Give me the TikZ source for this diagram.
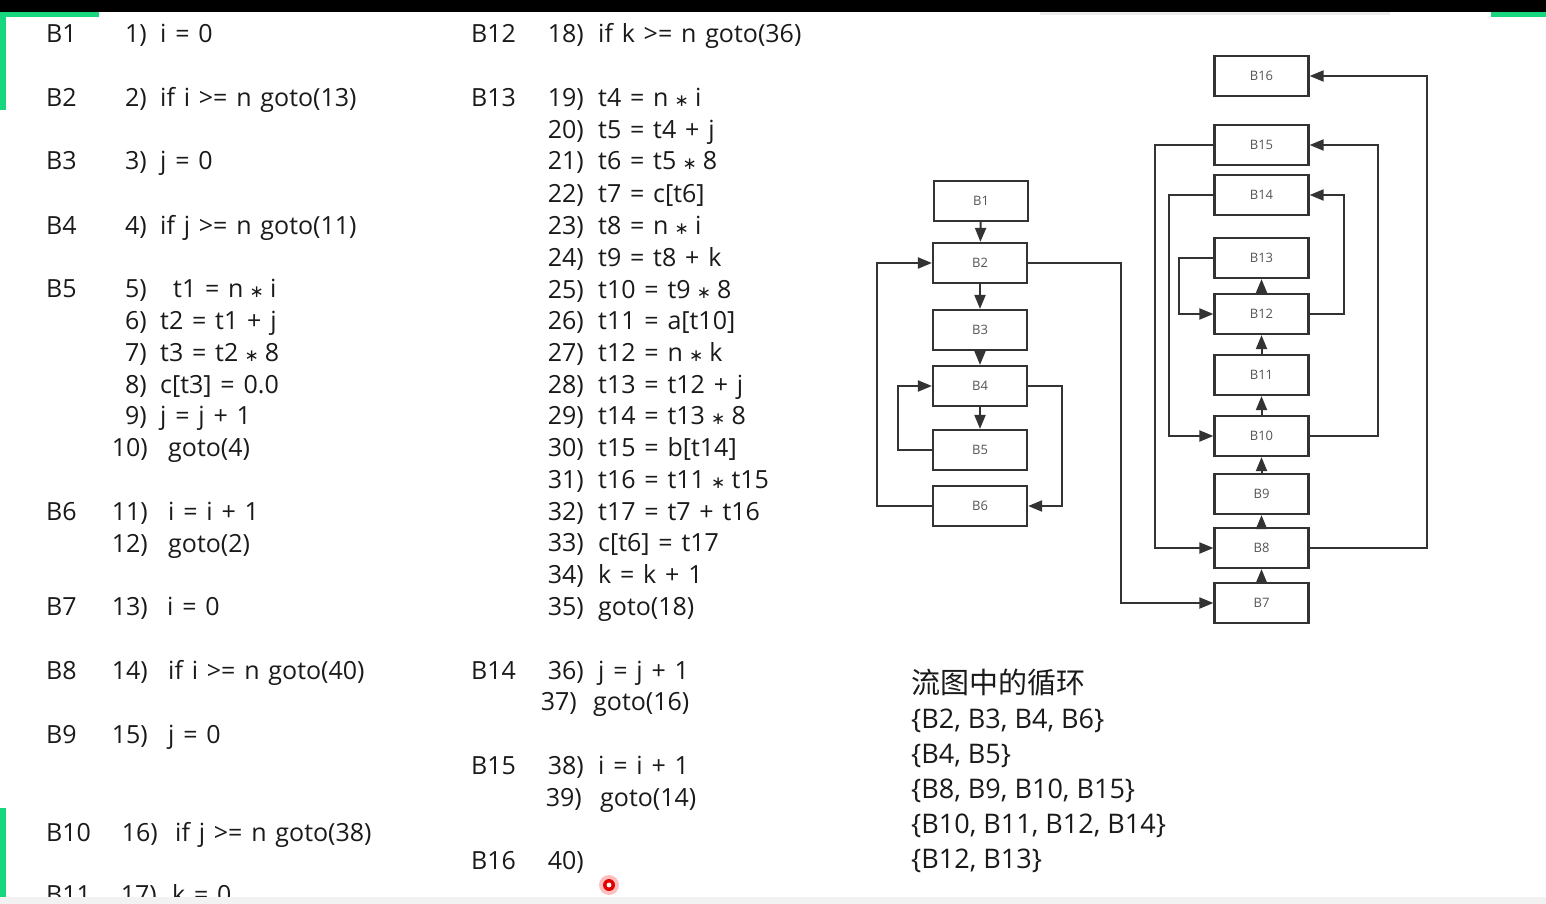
\documentclass[tikz,border=0pt]{standalone}
\usepackage{fontspec}
\setmainfont{Open Sans}
\newfontfamily\cjkf{Noto Sans CJK SC}
\newfontfamily\djv{DejaVu Sans}
\usetikzlibrary{arrows.meta}
\definecolor{txtc}{HTML}{1A1A1A}
\definecolor{boxc}{HTML}{333333}
\definecolor{labc}{HTML}{555555}
\definecolor{grn}{RGB}{22,214,126}
\newcommand\mstar{\makebox[9pt][c]{\djv\fontsize{17}{17}\selectfont ∗}}
\newcommand\widesp{\spaceskip 8.8pt\relax}
\newcommand\codefont{\fontsize{25}{30}\selectfont}
\newcommand\codeln[5]{\node[num] (n#1) at (#2,#4) {#1)}; \node[code] (s#1) at (#3,#4) {\widesp #5};}
\tikzset{
  code/.style={anchor=base west, inner sep=0pt, text=txtc, font=\codefont},
  num/.style={code, anchor=base east},
  lab/.style={code},
  loops/.style={anchor=base west, inner sep=0pt, text=txtc, font=\fontsize{27}{32}\selectfont},
  blk/.style={draw=boxc, line width=2.2pt, minimum width=94pt, minimum height=40pt, inner sep=0pt, text=labc, font=\fontsize{13}{15}\selectfont},
  arr/.style={draw=boxc, line width=2pt, -{Triangle[length=14pt,width=11pt]}},
}
\begin{document}
\begin{tikzpicture}[x=1pt,y=-1pt]
\useasboundingbox (0,0) rectangle (1546,904);
\fill[white] (0,0) rectangle (1546,904);
% frame decorations
\fill[black] (0,0) rectangle (1546,12);
\fill[black!8] (1040,12) rectangle (1390,15);
\fill[grn] (0,12) rectangle (99,17);
\fill[grn] (0,12) rectangle (6,110);
\fill[grn] (1491,12) rectangle (1546,17);
\fill[grn] (0,808) rectangle (6,897);

% column 1 labels
\foreach \l/\y in {B1/43,B2/107,B3/170,B4/234,B5/297,B6/520,B7/615,B8/679,B9/743,B10/841,B11/903}
  \node[lab] (L\l) at (46,\y) {\l};
% column 1 code
\codeln{1}{147}{160}{43}{i = 0}
\codeln{2}{147}{160}{107}{if i >= n goto(13)}
\codeln{3}{147}{160}{170}{j = 0}
\codeln{4}{147}{160}{234}{if j >= n goto(11)}
\codeln{5}{147}{173}{297}{t1 = n \mstar{} i}
\codeln{6}{147}{160}{329}{t2 = t1 + j}
\codeln{7}{147}{160}{361}{t3 = t2 \mstar{} 8}
\codeln{8}{147}{160}{393}{c[t3] = 0.0}
\codeln{9}{147}{160}{424}{j = j + 1}
\codeln{10}{148}{168}{456}{goto(4)}
\codeln{11}{148}{168}{520}{i = i + 1}
\codeln{12}{148}{168}{552}{goto(2)}
\codeln{13}{148}{167}{615}{i = 0}
\codeln{14}{148}{168}{679}{if i >= n goto(40)}
\codeln{15}{148}{168}{743}{j = 0}
\codeln{16}{158}{175}{841}{if j >= n goto(38)}
\codeln{17}{157}{172}{903}{k = 0}

% column 2 labels
\foreach \l/\y in {B12/43,B13/107,B14/679,B15/774,B16/869}
  \node[lab] (L\l) at (471,\y) {\l};
\codeln{18}{584}{598}{43}{if k >= n goto(36)}
\codeln{19}{584}{598}{107}{t4 = n \mstar{} i}
\codeln{20}{584}{598}{139}{t5 = t4 + j}
\codeln{21}{584}{598}{170}{t6 = t5 \mstar{} 8}
\codeln{22}{584}{598}{202}{t7 = c[t6]}
\codeln{23}{584}{598}{234}{t8 = n \mstar{} i}
\codeln{24}{584}{598}{266}{t9 = t8 + k}
\codeln{25}{584}{598}{298}{t10 = t9 \mstar{} 8}
\codeln{26}{584}{598}{329}{t11 = a[t10]}
\codeln{27}{584}{598}{361}{t12 = n \mstar{} k}
\codeln{28}{584}{598}{393}{t13 = t12 + j}
\codeln{29}{584}{598}{424}{t14 = t13 \mstar{} 8}
\codeln{30}{584}{598}{456}{t15 = b[t14]}
\codeln{31}{584}{598}{488}{t16 = t11 \mstar{} t15}
\codeln{32}{584}{598}{520}{t17 = t7 + t16}
\codeln{33}{584}{598}{551}{c[t6] = t17}
\codeln{34}{584}{598}{583}{k = k + 1}
\codeln{35}{584}{598}{615}{goto(18)}
\codeln{36}{584}{598}{679}{j = j + 1}
\codeln{37}{577}{593}{710}{goto(16)}
\codeln{38}{584}{598}{774}{i = i + 1}
\codeln{39}{582}{600}{806}{goto(14)}
\node[num] (n40) at (584,869) {40)};

% loops list
\node[loops] (ttl) at (911,693) {\cjkf\fontsize{29}{32}\selectfont 流图中的循环};
\node[loops] (lp1) at (911,728) {\{B2, B3, B4, B6\}};
\node[loops] (lp2) at (911,763) {\{B4, B5\}};
\node[loops] (lp3) at (911,798) {\{B8, B9, B10, B15\}};
\node[loops] (lp4) at (911,833) {\{B10, B11, B12, B14\}};
\node[loops] (lp5) at (911,868) {\{B12, B13\}};

% flow graph, left part
\node[blk] (B1) at (981,201) {B1};
\node[blk] (B2) at (980,263) {B2};
\node[blk] (B3) at (980,330) {B3};
\node[blk] (B4) at (980,386) {B4};
\node[blk] (B5) at (980,450) {B5};
\node[blk] (B6) at (980,506) {B6};
% right part
\node[blk] (B16) at (1261.5,76) {B16};
\node[blk] (B15) at (1261.5,145) {B15};
\node[blk] (B14) at (1261.5,195) {B14};
\node[blk] (B13) at (1261.5,258) {B13};
\node[blk] (B12) at (1261.5,314) {B12};
\node[blk] (B11) at (1261.5,375) {B11};
\node[blk] (B10) at (1261.5,436) {B10};
\node[blk] (B9) at (1261.5,494) {B9};
\node[blk] (B8) at (1261.5,548) {B8};
\node[blk] (B7) at (1261.5,603) {B7};

\draw[arr] (B1) -- (B2);
\draw[arr] (B2) -- (B3);
\draw[arr] (B3) -- (B4);
\draw[arr] (B4) -- (B5);
\draw[arr] (B6.west) -- ++(-55,0) |- (B2.west);
\draw[arr] (B5.west) -- ++(-34,0) |- (B4.west);
\draw[arr] (B4.east) -- ++(34,0) |- (B6.east);
\draw[arr] (B2.east) -- ++(93,0) |- (B7.west);

\draw[arr] (B7) -- (B8);
\draw[arr] (B8) -- (B9);
\draw[arr] (B9) -- (B10);
\draw[arr] (B10) -- (B11);
\draw[arr] (B11) -- (B12);
\draw[arr] (B12) -- (B13);
\draw[arr] (B13.west) -- ++(-34,0) |- (B12.west);
\draw[arr] (B12.east) -- ++(34,0) |- (B14.east);
\draw[arr] (B14.west) -- ++(-44,0) |- (B10.west);
\draw[arr] (B10.east) -- ++(68,0) |- (B15.east);
\draw[arr] (B15.west) -- ++(-58,0) |- (B8.west);
\draw[arr] (B8.east) -- ++(117,0) |- (B16.east);

% bottom strip and cursor
\fill[black!5] (0,897) rectangle (1546,904);
\fill[red!25] (609,885) circle (10);
\fill[red!90!black] (609,885) circle (6);
\fill[white] (609,885) circle (2.4);
\end{tikzpicture}
\end{document}
